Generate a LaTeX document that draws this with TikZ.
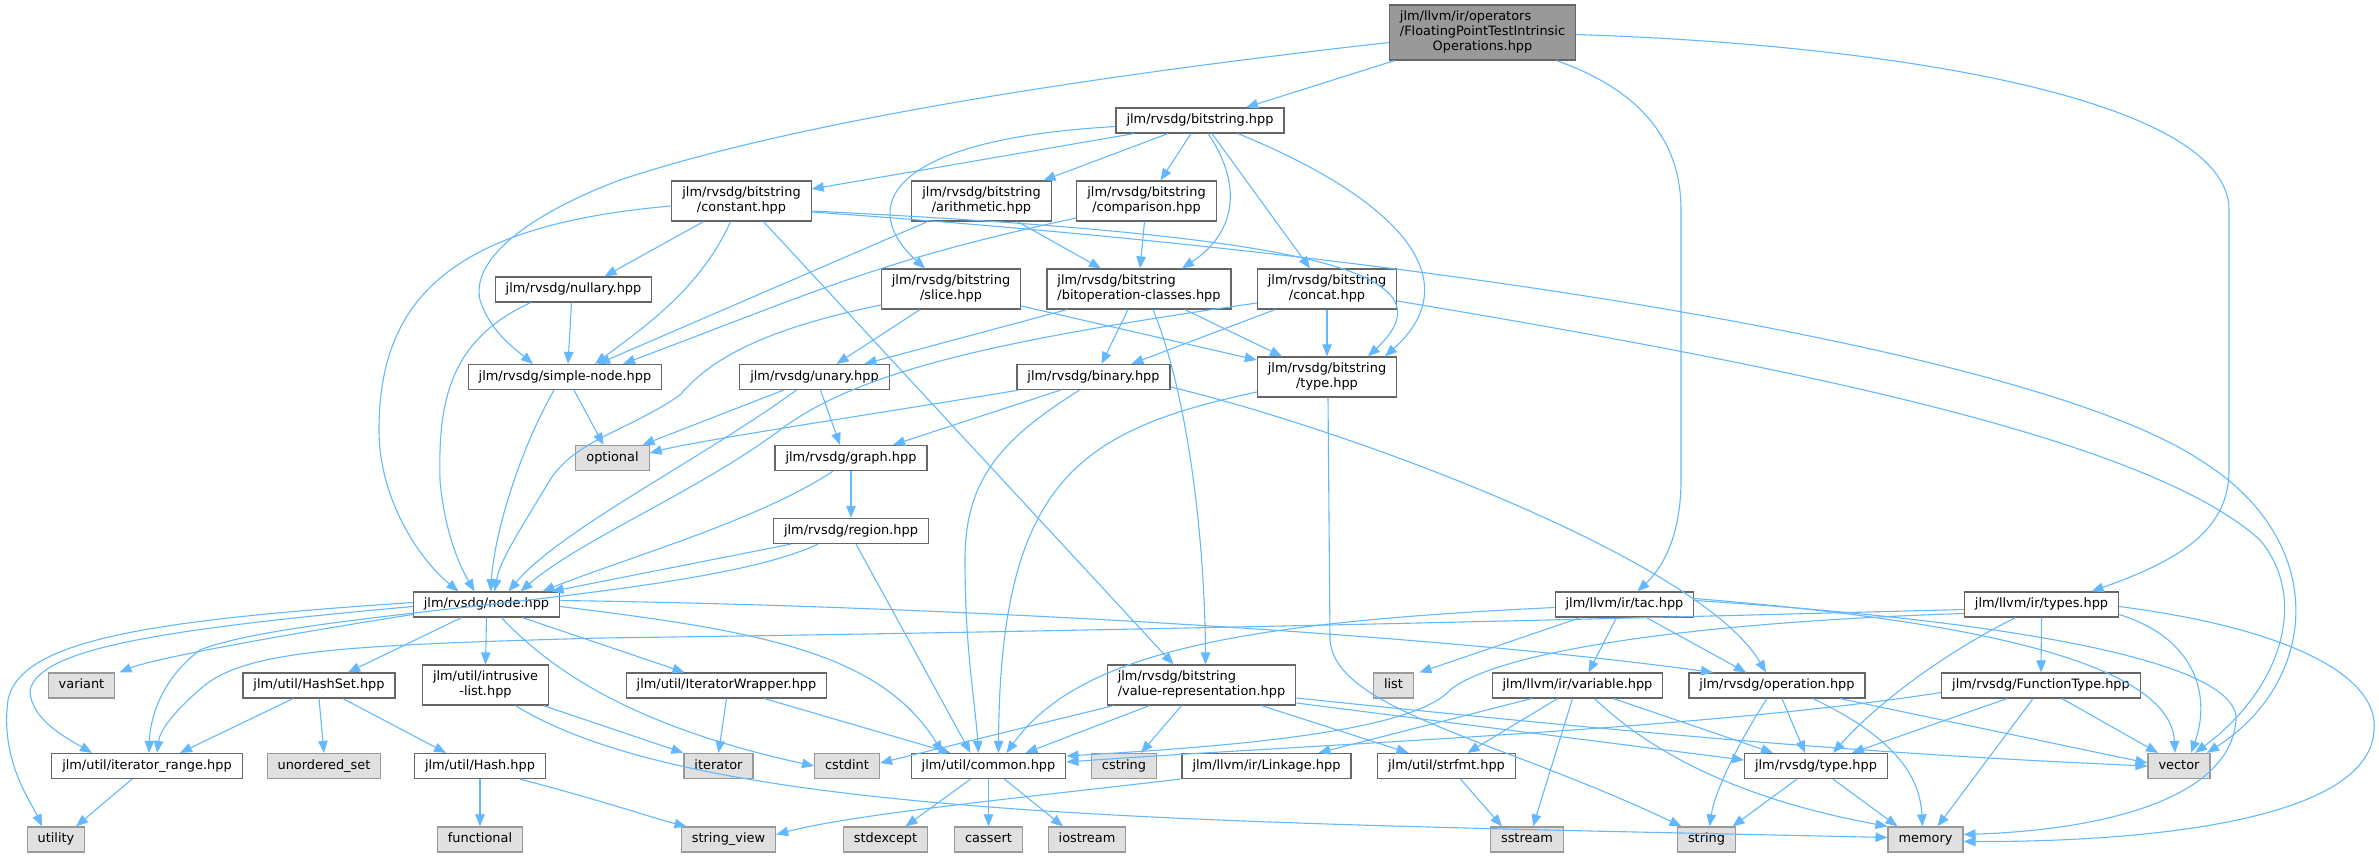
\documentclass[tikz,border=0pt]{standalone}
\usepackage{fontspec}
\setmainfont{DejaVu Sans}
\usetikzlibrary{arrows.meta}
\definecolor{edgeblue}{HTML}{63B8FF}
\definecolor{frame}{HTML}{666666}
\definecolor{sysframe}{HTML}{999999}
\definecolor{sysfill}{HTML}{E0E0E0}
\definecolor{rootfill}{HTML}{999999}
\newcommand{\twol}[2]{\begin{tabular}{@{}l@{}}#1\\\multicolumn{1}{@{}c@{}}{#2}\end{tabular}}

\begin{document}
\begin{tikzpicture}[x=1pt, y=-1pt,
  filebox/.style={draw=frame, line width=1.2pt, font=\fontsize{12.9}{14.7}\selectfont, inner xsep=10.5pt, inner ysep=0pt},
  hfile/.style={filebox, fill=white, minimum height=25pt, text height=9.8pt, text depth=3.1pt},
  hfile2/.style={filebox, fill=white, minimum height=40pt},
  sysfile/.style={hfile, draw=sysframe, fill=sysfill},
  mainfile/.style={filebox, fill=rootfill, minimum height=55pt},
  inc/.style={draw=edgeblue, line width=1.1pt, -{Triangle[length=12pt,width=9.5pt]}}]
  \useasboundingbox (0,0) rectangle (2379,857);

  % files
  \node[mainfile] (root) at (1482.5,32.5) {\begin{tabular}{@{}l@{}}jlm/llvm/ir/operators\\/FloatingPointTestIntrinsic\\\multicolumn{1}{@{}c@{}}{Operations.hpp}\end{tabular}};
  \node[hfile] (bits) at (1200,120.5) {jlm/rvsdg/bitstring.hpp};
  \node[hfile2] (bconst) at (741.5,201) {\twol{jlm/rvsdg/bitstring}{/constant.hpp}};
  \node[hfile2] (barith) at (981.5,201) {\twol{jlm/rvsdg/bitstring}{/arithmetic.hpp}};
  \node[hfile2] (bcomp) at (1146.5,201) {\twol{jlm/rvsdg/bitstring}{/comparison.hpp}};
  \node[hfile2] (bslice) at (951,289) {\twol{jlm/rvsdg/bitstring}{/slice.hpp}};
  \node[hfile2] (bitop) at (1139,289) {\twol{jlm/rvsdg/bitstring}{/bitoperation-classes.hpp}};
  \node[hfile2] (bconcat) at (1327,289) {\twol{jlm/rvsdg/bitstring}{/concat.hpp}};
  \node[hfile] (nullary) at (573.5,289.5) {jlm/rvsdg/nullary.hpp};
  \node[hfile] (simple) at (565,377) {jlm/rvsdg/simple-node.hpp};
  \node[hfile] (unary) at (814.5,377) {jlm/rvsdg/unary.hpp};
  \node[hfile] (binary) at (1093.5,377) {jlm/rvsdg/binary.hpp};
  \node[hfile2] (btype) at (1327,377) {\twol{jlm/rvsdg/bitstring}{/type.hpp}};
  \node[sysfile] (optional) at (612.5,458) {optional};
  \node[hfile] (graph) at (851,458) {jlm/rvsdg/graph.hpp};
  \node[hfile] (region) at (851,531) {jlm/rvsdg/region.hpp};
  \node[hfile] (node) at (486.5,604.5) {jlm/rvsdg/node.hpp};
  \node[hfile] (tac) at (1624.5,604.5) {jlm/llvm/ir/tac.hpp};
  \node[hfile] (types) at (2041.5,604.5) {jlm/llvm/ir/types.hpp};
  \node[sysfile] (variant) at (81.5,685.5) {variant};
  \node[hfile] (hashset) at (319,685.5) {jlm/util/HashSet.hpp};
  \node[hfile2] (intrusive) at (485.5,685) {\twol{jlm/util/intrusive}{-list.hpp}};
  \node[hfile] (iterwrap) at (726.5,685.5) {jlm/util/IteratorWrapper.hpp};
  \node[hfile2] (valrep) at (1201.5,685) {\twol{jlm/rvsdg/bitstring}{/value-representation.hpp}};
  \node[sysfile] (list) at (1393.5,685.5) {list};
  \node[hfile] (variable) at (1577.5,685.5) {jlm/llvm/ir/variable.hpp};
  \node[hfile] (operation) at (1777,685.5) {jlm/rvsdg/operation.hpp};
  \node[hfile] (functype) at (2041,685.5) {jlm/rvsdg/FunctionType.hpp};
  \node[hfile] (iterrange) at (147,766) {jlm/util/iterator\_range.hpp};
  \node[sysfile] (unordset) at (324,766) {unordered\_set};
  \node[hfile] (hash) at (480,766) {jlm/util/Hash.hpp};
  \node[sysfile] (iterator) at (718.5,766) {iterator};
  \node[sysfile] (cstdint) at (847,766) {cstdint};
  \node[hfile] (common) at (988.5,766) {jlm/util/common.hpp};
  \node[sysfile] (cstring) at (1124,766) {cstring};
  \node[hfile] (linkage) at (1266.5,766) {jlm/llvm/ir/Linkage.hpp};
  \node[hfile] (strfmt) at (1446.5,766) {jlm/util/strfmt.hpp};
  \node[hfile] (rtype) at (1816,766) {jlm/rvsdg/type.hpp};
  \node[sysfile] (vector) at (2179,766) {vector};
  \node[sysfile] (utility) at (56,839.5) {utility};
  \node[sysfile] (functional) at (480,839.5) {functional};
  \node[sysfile] (stringvw) at (728.5,839.5) {string\_view};
  \node[sysfile] (stdexcept) at (885.5,839.5) {stdexcept};
  \node[sysfile] (cassert) at (988.5,839.5) {cassert};
  \node[sysfile] (iostream) at (1087,839.5) {iostream};
  \node[sysfile] (sstream) at (1527,839.5) {sstream};
  \node[sysfile] (string) at (1706.5,839.5) {string};
  \node[sysfile] (memory) at (1925.5,839.5) {memory};

  % includes of the main file
  \draw[inc] ([xshift=-88pt]root.south) -- ([xshift=46pt]bits.north);
  \draw[inc] ([yshift=-10pt]root.west) .. controls (1100,75) and (800,120) .. (620,180) .. controls (540,210) and (470,255) .. (480,300) .. controls (490,330) and (510,345) .. ([xshift=-32pt]simple.north);
  \draw[inc] ([xshift=74pt]root.south) .. controls (1640,90) and (1681,140) .. (1681,210) -- (1681,480) .. controls (1681,540) and (1660,570) .. ([xshift=13pt]tac.north);
  \draw[inc] ([yshift=-2pt]root.east) .. controls (1900,45) and (2229,100) .. (2229,210) -- (2229,470) .. controls (2229,530) and (2180,560) .. ([xshift=50pt]types.north);

  % bitstring
  \draw[inc] ([xshift=-66pt]bits.south) -- ([yshift=12pt]bconst.east);
  \draw[inc] ([xshift=-32pt]bits.south) -- ([xshift=62pt]barith.north);
  \draw[inc] ([xshift=-9pt]bits.south) -- ([xshift=14pt]bcomp.north);
  \draw[inc] ([yshift=-6pt]bits.west) .. controls (880,140) and (860,210) .. ([xshift=-26pt]bslice.north);
  \draw[inc] ([xshift=8pt]bits.south) .. controls (1240,180) and (1240,230) .. ([xshift=43pt]bitop.north);
  \draw[inc] ([xshift=12pt]bits.south) -- ([xshift=-17pt]bconcat.north);
  \draw[inc] ([xshift=38pt]bits.south) .. controls (1400,200) and (1470,280) .. ([xshift=58pt]btype.north);

  \draw[inc] ([yshift=-5pt]bconst.west) .. controls (450,225) and (379,300) .. (379,430) .. controls (379,500) and (420,560) .. ([xshift=-28pt]node.north);
  \draw[inc] ([xshift=-38pt]bconst.south) -- ([xshift=31pt]nullary.north);
  \draw[inc] ([xshift=-11pt]bconst.south) .. controls (700,290) and (640,330) .. ([xshift=30pt]simple.north);
  \draw[inc] ([xshift=22pt]bconst.south) -- ([xshift=-28pt]valrep.north);
  \draw[inc] ([yshift=-10pt]bconst.east) .. controls (1300,235) and (1460,270) .. ([xshift=41pt]btype.north);
  \draw[inc] ([yshift=-11pt]bconst.east) .. controls (1500,260) and (2050,360) .. (2200,460) .. controls (2330,540) and (2320,680) .. ([xshift=28pt]vector.north);

  \draw[inc] ([xshift=-54pt]barith.south) -- ([xshift=33pt]simple.north);
  \draw[inc] ([xshift=36pt]barith.south) -- ([xshift=-38pt]bitop.north);
  \draw[inc] ([yshift=-17pt]bcomp.west) .. controls (880,260) and (820,290) .. ([xshift=58pt]simple.north);
  \draw[inc] ([xshift=-2pt]bcomp.south) -- ([xshift=1pt]bitop.north);

  \draw[inc] ([xshift=-31pt]bslice.south) -- ([xshift=22pt]unary.north);
  \draw[inc] ([yshift=-17pt]bslice.east) -- ([yshift=17pt]btype.west);
  \draw[inc] ([yshift=-16pt]bslice.west) .. controls (760,330) and (710,360) .. (680,395) .. controls (630,430) and (575,440) .. (550,480) .. controls (520,530) and (500,560) .. ([xshift=8pt]node.north);

  \draw[inc] ([xshift=-72pt]bitop.south) -- ([xshift=50pt]unary.north);
  \draw[inc] ([xshift=-11pt]bitop.south) -- ([xshift=8pt]binary.north);
  \draw[inc] ([xshift=14pt]bitop.south) .. controls (1190,400) and (1205,550) .. ([xshift=4pt]valrep.north);
  \draw[inc] ([xshift=46pt]bitop.south) -- ([xshift=-45pt]btype.north);

  \draw[inc] (bconcat.south) -- (btype.north);
  \draw[inc] ([xshift=-52pt]bconcat.south) -- ([xshift=38pt]binary.north);
  \draw[inc] ([yshift=-14pt]bconcat.west) .. controls (1000,340) and (860,370) .. (780,430) .. controls (700,490) and (580,540) .. ([xshift=34pt]node.north);
  \draw[inc] ([yshift=-12pt]bconcat.east) .. controls (1800,368) and (2150,440) .. (2260,540) .. controls (2310,600) and (2280,690) .. ([xshift=16pt]vector.north);

  \draw[inc] ([yshift=-15pt]btype.west) .. controls (1080,430) and (1000,480) .. ([xshift=10pt]common.north);
  \draw[inc] ([xshift=1pt]btype.south) -- (1330,640) .. controls (1335,710) and (1500,740) .. ([xshift=-25pt]string.north);

  % rvsdg core
  \draw[inc] ([xshift=-2pt]nullary.south) -- ([xshift=3pt]simple.north);
  \draw[inc] ([xshift=-43pt]nullary.south) .. controls (450,340) and (438,400) .. (440,480) .. controls (445,540) and (465,575) .. ([xshift=-12pt]node.north);
  \draw[inc] ([xshift=9pt]simple.south) -- ([xshift=-9pt]optional.north);
  \draw[inc] ([xshift=-11pt]simple.south) .. controls (520,450) and (495,530) .. ([xshift=4pt]node.north);
  \draw[inc] ([xshift=-31pt]unary.south) -- ([xshift=30pt]optional.north);
  \draw[inc] ([xshift=6pt]unary.south) -- ([xshift=-11pt]graph.north);
  \draw[inc] ([xshift=-18pt]unary.south) .. controls (700,460) and (560,530) .. ([xshift=22pt]node.north);
  \draw[inc] ([xshift=-75pt]binary.south) .. controls (900,410) and (700,440) .. ([yshift=5pt]optional.east);
  \draw[inc] ([xshift=-33pt]binary.south) -- ([xshift=42pt]graph.north);
  \draw[inc] ([xshift=-14pt]binary.south) .. controls (1000,440) and (965,480) .. (965,560) .. controls (965,650) and (975,700) .. ([xshift=-10pt]common.north);
  \draw[inc] ([yshift=-10pt]binary.east) .. controls (1350,430) and (1700,560) .. ([xshift=-11pt]operation.north);
  \draw[inc] (graph.south) -- (region.north);
  \draw[inc] ([xshift=-18pt]graph.south) .. controls (760,520) and (620,560) .. ([xshift=56pt]node.north);
  \draw[inc] ([xshift=-60pt]region.south) -- ([xshift=65pt]node.north);
  \draw[inc] ([xshift=-33pt]region.south) .. controls (700,600) and (300,610) .. (200,650) .. controls (160,680) and (150,720) .. ([xshift=2pt]iterrange.north);
  \draw[inc] ([xshift=5pt]region.south) -- ([xshift=-18pt]common.north);

  % node.hpp
  \draw[inc] ([yshift=2pt]node.west) .. controls (150,620) and (20,640) .. (8,700) .. controls (0,760) and (30,800) .. ([xshift=-14pt]utility.north);
  \draw[inc] ([yshift=-2pt]node.west) .. controls (150,630) and (40,650) .. (30,690) .. controls (30,720) and (70,740) .. ([xshift=-55pt]iterrange.north);
  \draw[inc] ([yshift=-10pt]node.west) .. controls (250,640) and (150,660) .. ([xshift=38pt]variant.north);
  \draw[inc] ([xshift=-25pt]node.south) -- ([xshift=29pt]hashset.north);
  \draw[inc] (node.south) -- (intrusive.north);
  \draw[inc] ([xshift=36pt]node.south) -- ([xshift=-42pt]iterwrap.north);
  \draw[inc] ([xshift=15pt]node.south) .. controls (560,680) and (650,730) .. (cstdint.west);
  \draw[inc] ([yshift=-2pt]node.east) .. controls (750,630) and (880,650) .. ([xshift=-46pt]common.north);
  \draw[inc] ([yshift=4pt]node.east) .. controls (900,605) and (1400,630) .. ([xshift=-64pt]operation.north);

  % util
  \draw[inc] ([xshift=-26pt]hashset.south) -- ([xshift=33pt]iterrange.north);
  \draw[inc] (hashset.south) -- (unordset.north);
  \draw[inc] ([xshift=24pt]hashset.south) -- ([xshift=-34pt]hash.north);
  \draw[inc] ([xshift=-15pt]iterrange.south) -- ([xshift=20pt]utility.north);
  \draw[inc] (hash.south) -- (functional.north);
  \draw[inc] ([xshift=40pt]hash.south) .. controls (600,800) and (660,820) .. ([xshift=-42pt]stringvw.north);
  \draw[inc] ([xshift=58pt]intrusive.south) -- (iterator.north west);
  \draw[inc] ([xshift=30pt]intrusive.south) .. controls (700,820) and (1200,822) .. ([yshift=2pt]memory.west);
  \draw[inc] (iterwrap.south) -- (iterator.north);
  \draw[inc] ([xshift=38pt]iterwrap.south) -- ([xshift=-38pt]common.north);
  \draw[inc] ([xshift=-18pt]common.south) -- ([xshift=20pt]stdexcept.north);
  \draw[inc] (common.south) -- (cassert.north);
  \draw[inc] ([xshift=16pt]common.south) -- ([xshift=-24pt]iostream.north);

  % value-representation
  \draw[inc] ([xshift=-88pt]valrep.south) -- ([yshift=3pt]cstdint.east);
  \draw[inc] ([xshift=-52pt]valrep.south) -- ([xshift=37pt]common.north);
  \draw[inc] ([xshift=-20pt]valrep.south) -- ([xshift=17pt]cstring.north);
  \draw[inc] ([xshift=60pt]valrep.south) -- ([xshift=-38pt]strfmt.north);
  \draw[inc] ([yshift=-13pt]valrep.east) .. controls (1700,740) and (1900,755) .. (vector.west);
  \draw[inc] ([yshift=-18pt]valrep.east) -- ([yshift=6pt]rtype.west);
  \draw[inc] ([xshift=-86pt]linkage.south) .. controls (1000,800) and (850,815) .. ([yshift=5pt]stringvw.east);
  \draw[inc] ([xshift=14pt]strfmt.south) -- ([xshift=-25pt]sstream.north);

  % llvm ir
  \draw[inc] ([xshift=-44pt]tac.south) -- ([xshift=26pt]list.north);
  \draw[inc] ([xshift=-8pt]tac.south) -- ([xshift=11pt]variable.north);
  \draw[inc] ([xshift=22pt]tac.south) -- ([xshift=-31pt]operation.north);
  \draw[inc] ([yshift=-3pt]tac.west) .. controls (1250,622) and (1080,650) .. ([xshift=18pt]common.north);
  \draw[inc] ([yshift=6pt]tac.east) .. controls (1900,615) and (2170,650) .. ([xshift=-4pt]vector.north);
  \draw[inc] ([yshift=4pt]tac.east) .. controls (2000,620) and (2240,660) .. (2236,720) .. controls (2230,800) and (2100,830) .. ([yshift=5pt]memory.east);

  \draw[inc] ([xshift=-46pt]variable.south) -- ([xshift=52pt]linkage.north);
  \draw[inc] ([xshift=-20pt]variable.south) -- ([xshift=21pt]strfmt.north);
  \draw[inc] ([xshift=-5pt]variable.south) -- ([xshift=6pt]sstream.north);
  \draw[inc] ([xshift=17pt]variable.south) .. controls (1680,780) and (1800,810) .. (memory.north west);
  \draw[inc] ([xshift=36pt]variable.south) -- ([xshift=-43pt]rtype.north);

  \draw[inc] ([xshift=5pt]operation.south) -- ([xshift=-11pt]rtype.north);
  \draw[inc] ([xshift=-10pt]operation.south) .. controls (1740,740) and (1715,790) .. ([xshift=3pt]string.north);
  \draw[inc] ([xshift=36pt]operation.south) .. controls (1900,740) and (1920,780) .. ([xshift=-3pt]memory.north);
  \draw[inc] ([xshift=63pt]operation.south) -- ([yshift=3pt]vector.west);

  \draw[inc] (types.south) -- (functype.north);
  \draw[inc] ([xshift=-26pt]types.south) .. controls (1950,650) and (1880,700) .. ([xshift=17pt]rtype.north);
  \draw[inc] ([yshift=-10pt]types.east) .. controls (2200,640) and (2210,700) .. ([xshift=12pt]vector.north);
  \draw[inc] ([yshift=-2pt]types.east) .. controls (2300,630) and (2379,680) .. (2374,730) .. controls (2370,820) and (2150,842) .. ([yshift=-2pt]memory.east);
  \draw[inc] ([yshift=-9pt]types.west) .. controls (1700,622) and (1500,650) .. (1450,690) .. controls (1410,735) and (1200,748) .. ([yshift=10pt]common.east);
  \draw[inc] ([yshift=-5pt]types.west) .. controls (1750,615) and (1200,630) .. (600,638) .. controls (350,645) and (250,650) .. (205,685) .. controls (175,710) and (160,730) .. ([xshift=10pt]iterrange.north);

  \draw[inc] ([xshift=-34pt]functype.south) -- ([xshift=36pt]rtype.north);
  \draw[inc] ([xshift=-8pt]functype.south) -- ([xshift=12pt]memory.north);
  \draw[inc] ([xshift=21pt]functype.south) -- ([xshift=-21pt]vector.north);
  \draw[inc] ([yshift=-7pt]functype.west) .. controls (1700,730) and (1300,745) .. ([yshift=4pt]common.east);

  \draw[inc] ([xshift=-19pt]rtype.south) -- ([xshift=26pt]string.north);
  \draw[inc] ([xshift=17pt]rtype.south) -- ([xshift=-28pt]memory.north);
\end{tikzpicture}
\end{document}
